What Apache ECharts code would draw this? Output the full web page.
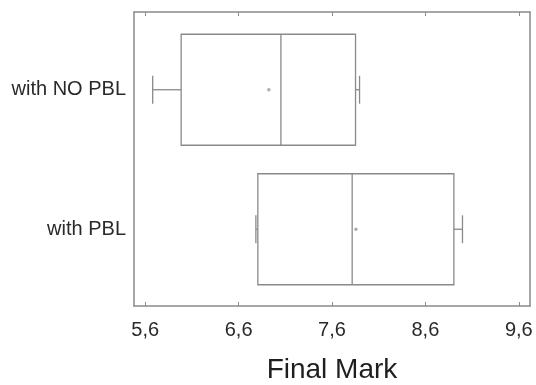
<!DOCTYPE html>
<html><head><meta charset="utf-8">
<script src="https://cdn.jsdelivr.net/npm/echarts@6/dist/echarts.min.js"></script>
<style>html,body{margin:0;padding:0;background:#fff}#c{width:536px;height:385px}</style>
</head><body><div id="c"></div>
<script>
const categories = ['with NO PBL', 'with PBL'];
// [whiskerLow, Q1, median, Q3, whiskerHigh]
const noPblBox = [5.68, 5.985, 7.053, 7.852, 7.895];
const pblBox = [6.785, 6.806, 7.816, 8.905, 8.997];
const means = [6.924, 7.856];
const tickValues = [5.6, 6.6, 7.6, 8.6, 9.6];

const boxes = [noPblBox, pblBox];
const lineColor = '#8a8a8a';
const font = 'Liberation Sans, Arial, sans-serif';

const chart = echarts.init(document.getElementById('c'));
const xCommon = { type: 'value', min: 5.48, max: 9.72, splitLine: { show: false } };
chart.setOption({
  animation: false,
  grid: [
    { left: 134, right: 6, top: 12, bottom: 79, containLabel: false, outerBoundsMode: 'none' },
    { left: 134, right: 6, top: 20, height: 279, containLabel: false, outerBoundsMode: 'none' }
  ],
  xAxis: [
    Object.assign({}, xCommon, {
      gridIndex: 0, position: 'bottom',
      axisLine: { show: true, onZero: false, lineStyle: { color: lineColor, width: 1.5 } },
      axisTick: { show: true, inside: true, length: 4, customValues: tickValues, lineStyle: { color: lineColor } },
      axisLabel: { show: true, customValues: tickValues, margin: 14, color: '#2a2a2a', fontSize: 20, fontFamily: font,
        formatter: v => v.toFixed(1).replace('.', ',') },
      name: 'Final Mark', nameLocation: 'middle', nameGap: 50,
      nameTextStyle: { fontSize: 28, color: '#1e1e1e', fontFamily: font }
    }),
    Object.assign({}, xCommon, {
      gridIndex: 0, position: 'top',
      axisLine: { show: true, onZero: false, lineStyle: { color: lineColor, width: 1.5 } },
      axisTick: { show: true, inside: true, length: 4, customValues: tickValues, lineStyle: { color: lineColor } },
      axisLabel: { show: false }
    }),
    Object.assign({}, xCommon, { gridIndex: 1, show: false })
  ],
  yAxis: [
    { type: 'value', gridIndex: 0, position: 'left', min: 0, max: 1, splitLine: { show: false },
      axisLine: { show: true, onZero: false, lineStyle: { color: lineColor, width: 1.5 } }, axisTick: { show: false }, axisLabel: { show: false } },
    { type: 'value', gridIndex: 0, position: 'right', min: 0, max: 1, splitLine: { show: false },
      axisLine: { show: true, onZero: false, lineStyle: { color: lineColor, width: 1.5 } }, axisTick: { show: false }, axisLabel: { show: false } },
    { type: 'category', gridIndex: 1, data: categories, inverse: true,
      axisLine: { show: false }, axisTick: { show: false }, splitLine: { show: false },
      axisLabel: { margin: 8, fontSize: 20, color: '#2a2a2a', fontFamily: font } }
  ],
  series: [
    {
      type: 'custom', xAxisIndex: 2, yAxisIndex: 2,
      data: boxes.map((b, i) => [i].concat(b)),
      encode: { x: [1, 2, 3, 4, 5], y: 0 },
      renderItem: function (params, api) {
        const i = api.value(0);
        const band = api.size([0, 1])[1];
        const half = band * 0.398, cap = band * 0.1;
        const p = [1, 2, 3, 4, 5].map(d => api.coord([api.value(d), i]));
        const cy = p[0][1];
        const st = { stroke: lineColor, lineWidth: 1.3, fill: null };
        const line = (x1, y1, x2, y2) => ({ type: 'line', shape: { x1, y1, x2, y2 }, style: st });
        return {
          type: 'group',
          children: [
            { type: 'rect', shape: { x: p[1][0], y: cy - half, width: p[3][0] - p[1][0], height: 2 * half }, style: { stroke: lineColor, lineWidth: 1.3, fill: 'none' } },
            line(p[2][0], cy - half, p[2][0], cy + half),
            line(p[0][0], cy, p[1][0], cy),
            line(p[3][0], cy, p[4][0], cy),
            line(p[0][0], cy - cap, p[0][0], cy + cap),
            line(p[4][0], cy - cap, p[4][0], cy + cap)
          ]
        };
      }
    },
    {
      type: 'scatter', xAxisIndex: 2, yAxisIndex: 2,
      data: means.map((m, i) => [m, i]),
      symbol: 'circle', symbolSize: 3.5,
      itemStyle: { color: '#999' }
    }
  ]
});
</script></body></html>
